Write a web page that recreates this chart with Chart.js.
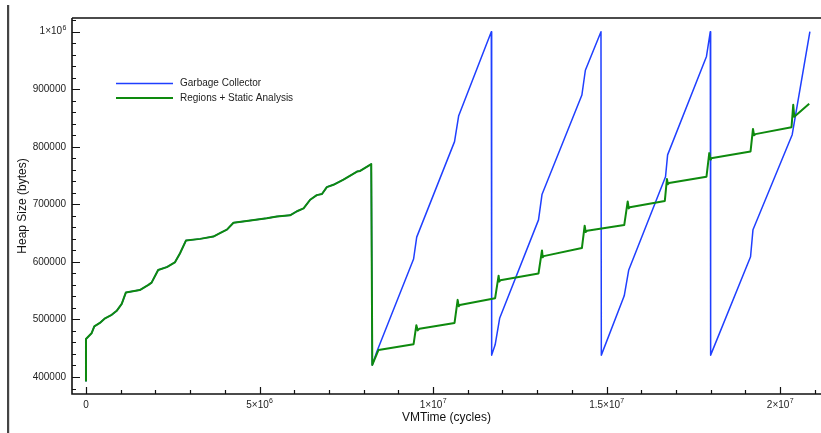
<!DOCTYPE html>
<html><head><meta charset="utf-8">
<script src="https://cdn.jsdelivr.net/npm/chart.js@4.4.1/dist/chart.umd.min.js"></script>
<style>html,body{margin:0;padding:0;background:#fff}#wrap{width:821px;height:433px}</style>
</head><body><div id="wrap"><canvas id="c" width="821" height="433"></canvas></div>
<script>
// shared warm-up phase (both series identical)
const warmTime = [0, 0, 160000, 240000, 400000, 550000, 740000, 885000, 1030000, 1150000, 1550000, 1800000, 1890000, 2080000, 2330000, 2560000, 2710000, 2880000, 3290000, 3670000, 3860000, 4060000, 4250000, 4630000, 5210000, 5500000, 5880000, 6080000, 6270000, 6460000, 6650000, 6800000, 6940000, 7130000, 7420000, 7810000, 7900000, 8220000];
const warmHeap = [392000, 466000, 476000, 488000, 494000, 502000, 508000, 515000, 527000, 547000, 551000, 560000, 564000, 586000, 591000, 599000, 615000, 637000, 640000, 644000, 650000, 656000, 668000, 671000, 676000, 679000, 681000, 688000, 693000, 708000, 716000, 718000, 730000, 734000, 743000, 757000, 758000, 770000];

// Garbage Collector after first collection
const gcTime = [8250000, 8380000, 9440000, 9530000, 10620000, 10740000, 11680000, 11690000, 11790000, 11920000, 13040000, 13140000, 14290000, 14390000, 14840000, 14850000, 15510000, 15640000, 16700000, 16760000, 17880000, 17990000, 18000000, 19150000, 19220000, 20350000, 20860000];
const gcHeap = [421000, 444000, 605000, 643000, 809000, 854000, 1000000, 438000, 456000, 502000, 673000, 717000, 890000, 933000, 1000000, 438000, 541000, 586000, 748000, 786000, 957000, 1000000, 438000, 609000, 656000, 821000, 1000000];

// Regions + Static Analysis after first collection
const rsaTime = [8250000, 8430000, 9440000, 9520000, 9560000, 9610000, 10620000, 10710000, 10740000, 10770000, 11790000, 11890000, 11910000, 11940000, 13040000, 13140000, 13160000, 13190000, 14290000, 14370000, 14400000, 14440000, 15510000, 15610000, 15640000, 15670000, 16680000, 16740000, 16770000, 16800000, 17880000, 17960000, 17990000, 18010000, 19150000, 19220000, 19250000, 19290000, 20330000, 20380000, 20410000, 20840000];
const rsaHeap = [421000, 447000, 457000, 490000, 481000, 484000, 494000, 534000, 523000, 525000, 537000, 576000, 566000, 568000, 580000, 620000, 608000, 610000, 624000, 663000, 652000, 654000, 664000, 705000, 693000, 695000, 706000, 744000, 735000, 737000, 748000, 789000, 778000, 780000, 792000, 831000, 820000, 822000, 834000, 873000, 852000, 875000];

const seriesNames = ['Garbage Collector', 'Regions + Static Analysis'];

// tick labels: [base, exponent]
const xTickValues = [0, 5000000, 10000000, 15000000, 20000000];
const xTickLabels = [['0', ''], ['5×10', '6'], ['1×10', '7'], ['1.5×10', '7'], ['2×10', '7']];
const yTickValues = [400000, 500000, 600000, 700000, 800000, 900000, 1000000];
const yTickLabels = [['400000', ''], ['500000', ''], ['600000', ''], ['700000', ''], ['800000', ''], ['900000', ''], ['1×10', '6']];

const BLUE = '#1f3fff';
const GREEN = '#0e8a0e';
const FONT = 'Liberation Sans, Arial, Helvetica, sans-serif';

function pts(t, h) { return t.map((v, i) => ({ x: v, y: h[i] })); }

function drawLabel(ctx, lab, x, y, align) {
  ctx.font = '10px ' + FONT;
  const wb = ctx.measureText(lab[0]).width;
  ctx.font = '7px ' + FONT;
  const we = lab[1] ? ctx.measureText(lab[1]).width : 0;
  const total = wb + we;
  let sx = align === 'right' ? x - total : x - total / 2;
  ctx.textAlign = 'left';
  ctx.textBaseline = 'middle';
  ctx.font = '10px ' + FONT;
  ctx.fillText(lab[0], sx, y);
  if (lab[1]) {
    ctx.font = '7px ' + FONT;
    ctx.fillText(lab[1], sx + wb + 0.3, y - 4);
  }
}

const framePlugin = {
  id: 'frame',
  afterDraw(chart) {
    const { ctx, chartArea: a, scales: { x, y } } = chart;
    ctx.save();
    // left bar
    ctx.fillStyle = '#444';
    ctx.fillRect(7, 5, 2.2, 428);
    // frame
    ctx.strokeStyle = '#111';
    ctx.lineWidth = 1.6;
    ctx.beginPath();
    ctx.moveTo(a.left, a.top); ctx.lineTo(a.right, a.top);
    ctx.moveTo(a.left, a.top); ctx.lineTo(a.left, a.bottom); ctx.lineTo(a.right, a.bottom);
    ctx.stroke();
    // ticks
    ctx.lineWidth = 1.2;
    ctx.beginPath();
    for (let v = 0; v <= 21000000; v += 1000000) {
      const p = Math.round(x.getPixelForValue(v)) + 0.5;
      const major = v % 5000000 === 0;
      ctx.moveTo(p, a.bottom); ctx.lineTo(p, a.bottom - (major ? 7 : 4));
    }
    for (let v = 380000; v <= 1020000; v += 20000) {
      const p = Math.round(y.getPixelForValue(v)) + 0.5;
      const major = v % 100000 === 0;
      ctx.moveTo(a.left, p); ctx.lineTo(a.left + (major ? 8 : 4), p);
    }
    ctx.stroke();
    // tick labels
    ctx.fillStyle = '#222';
    xTickValues.forEach((v, i) => drawLabel(ctx, xTickLabels[i], x.getPixelForValue(v), a.bottom + 11.5, 'center'));
    yTickValues.forEach((v, i) => drawLabel(ctx, yTickLabels[i], a.left - 6, y.getPixelForValue(v), 'right'));
    // legend
    const items = [{ c: BLUE, w: 1.6, yy: 83.5 }, { c: GREEN, w: 2, yy: 98 }];
    ctx.font = '10px ' + FONT;
    ctx.textAlign = 'left';
    ctx.textBaseline = 'middle';
    ctx.fillStyle = '#222';
    items.forEach((it, i) => {
      ctx.strokeStyle = it.c; ctx.lineWidth = it.w;
      ctx.beginPath(); ctx.moveTo(116, it.yy); ctx.lineTo(173, it.yy); ctx.stroke();
      ctx.fillText(seriesNames[i], 180, it.yy);
    });
    ctx.restore();
  }
};

new Chart(document.getElementById('c'), {
  type: 'line',
  data: {
    datasets: [
      { label: seriesNames[0], data: pts(warmTime.concat(gcTime), warmHeap.concat(gcHeap)), borderColor: BLUE, borderWidth: 1.5, borderJoinStyle: 'round', pointRadius: 0, tension: 0, order: 2, fill: false },
      { label: seriesNames[1], data: pts(warmTime.concat(rsaTime), warmHeap.concat(rsaHeap)), borderColor: GREEN, borderWidth: 2, borderJoinStyle: 'round', pointRadius: 0, tension: 0, order: 1, fill: false }
    ]
  },
  options: {
    responsive: false, animation: false, events: [],
    layout: { padding: { top: 18, left: 0, right: 0, bottom: 0 } },
    plugins: { legend: { display: false }, tooltip: { enabled: false } },
    scales: {
      x: {
        type: 'linear', min: -403000, max: 21180000,
        grid: { display: false, drawTicks: false }, border: { display: false },
        afterBuildTicks(s) { s.ticks = xTickValues.map(v => ({ value: v })); },
        ticks: { display: false },
        title: { display: true, text: 'VMTime (cycles)', color: '#111', font: { family: FONT, size: 12 }, padding: { top: 0, bottom: 8.3 } },
        afterFit(s) { s.height = 39; }
      },
      y: {
        type: 'linear', min: 370450, max: 1023800,
        grid: { display: false, drawTicks: false }, border: { display: false },
        afterBuildTicks(s) { s.ticks = yTickValues.map(v => ({ value: v })); },
        ticks: { display: false },
        title: { display: true, text: 'Heap Size (bytes)', color: '#111', font: { family: FONT, size: 12 }, padding: { top: 15.6, bottom: 0 } },
        afterFit(s) { s.width = 72; }
      }
    }
  },
  plugins: [framePlugin]
});
</script></body></html>
